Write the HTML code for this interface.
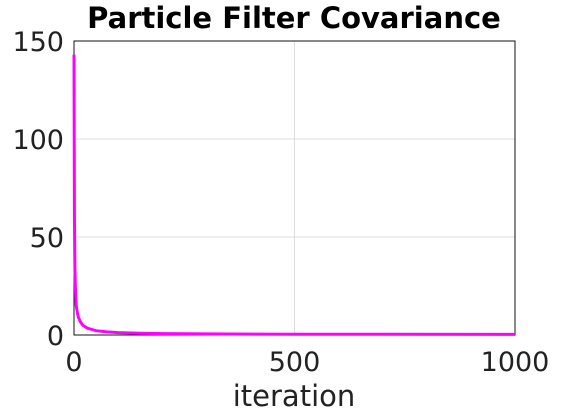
<!DOCTYPE html>
<html><head><meta charset="utf-8"><style>
body{margin:0;background:#fff;width:570px;height:413px;overflow:hidden;font-family:"DejaVu Sans","Liberation Sans",sans-serif}
</style></head><body>
<svg id="chart" width="570" height="413" xmlns="http://www.w3.org/2000/svg">
<text x="294" y="28" text-anchor="middle" font-size="29" font-weight="bold" fill="#000">Particle Filter Covariance</text>
<g id="grid"></g>
<g id="ticks"></g>
<rect x="74" y="41" width="441" height="294" fill="none" stroke="#111" stroke-width="1"/>
<path id="line" fill="none" stroke="#ff00ff" stroke-width="3"/>
<text x="294" y="406" text-anchor="middle" font-size="29" fill="#222">iteration</text>
</svg>
<script>
const iterations=[0,1,2,3,5,8,10,15,20,30,50,75,100,150,200,300,500,700,1000];
const covariance=[143,60,35,25,15,11,9,6.5,5,3.5,2.2,1.6,1.2,0.9,0.7,0.55,0.4,0.35,0.3];
const xTicks=[0,500,1000];
const yTicks=[0,50,100,150];
const L=74,R=515,T=41,B=335;
const sx=v=>L+(v/1000)*(R-L), sy=v=>B-(v/150)*(B-T);
const ns="http://www.w3.org/2000/svg";
const grid=document.getElementById('grid'),ticks=document.getElementById('ticks');
function mk(tag,attrs,parent){const e=document.createElementNS(ns,tag);for(const k in attrs)e.setAttribute(k,attrs[k]);parent.appendChild(e);return e;}
xTicks.forEach(v=>{
 const g=mk('line',{x1:sx(v),x2:sx(v),y1:T,y2:B,stroke:'#ddd','stroke-width':1},grid);
 
 
 const t=mk('text',{x:sx(v),y:371,'text-anchor':'middle','font-size':'27',fill:'#222'},ticks);
 t.textContent=v;
 
 
});
yTicks.forEach(v=>{
 const g=mk('line',{x1:L,x2:R,y1:sy(v),y2:sy(v),stroke:'#ddd','stroke-width':1},grid);
 
 
 const t=mk('text',{x:64,y:sy(v)+10,'text-anchor':'end','font-size':'27',fill:'#222'},ticks);
 t.textContent=v;
 
 
});
document.getElementById('line').setAttribute('d',iterations.map((x,i)=>(i?'L':'M')+sx(x).toFixed(2)+','+sy(covariance[i]).toFixed(2)).join(''));
</script>
</body></html>
